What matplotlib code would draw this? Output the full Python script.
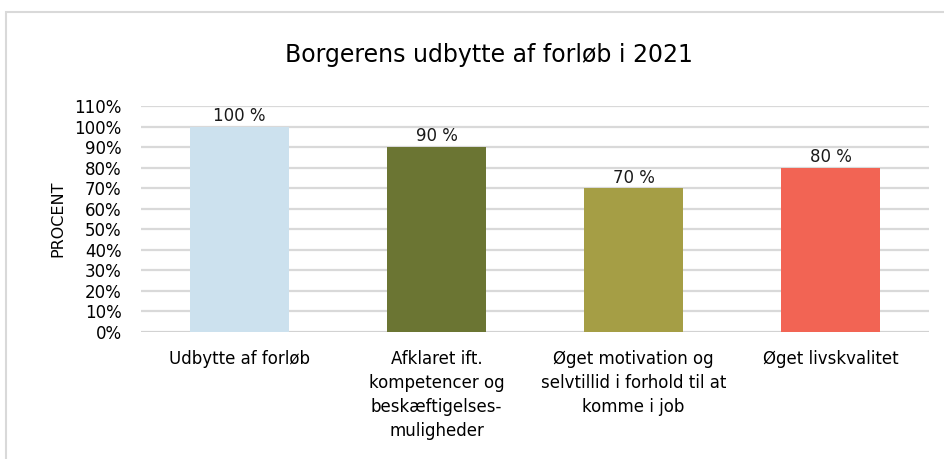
import matplotlib
matplotlib.use('Agg')
import matplotlib.pyplot as plt
from matplotlib.patches import Rectangle

plt.rcParams['font.family'] = ['DejaVu Sans']

# data
categories = ['Udbytte af forløb',
              'Afklaret ift.\nkompetencer og\nbeskæftigelses-\nmuligheder',
              'Øget motivation og\nselvtillid i forhold til at\nkomme i job',
              'Øget livskvalitet']
values = [100, 90, 70, 80]
colors = ['#CCE1EE', '#6B7533', '#A59E45', '#F26454']
yticks = list(range(0, 111, 10))

fig = plt.figure(figsize=(9.44, 4.59), dpi=100)
W, H = 944, 459
ax = fig.add_axes([141 / W, 1 - 332 / H, (929 - 141) / W, (332 - 106) / H])

# outer frame
fig.patches.append(Rectangle((6 / W, -0.01), 1.0, 1 - 12 / H + 0.01,
                             transform=fig.transFigure, fill=False,
                             edgecolor='#D9D9D9', linewidth=1.5))

x = range(len(values))
bars = ax.bar(x, values, width=0.5, color=colors, zorder=3)
for b, v in zip(bars, values):
    ax.text(b.get_x() + b.get_width() / 2, v + 0.8, f'{v} %',
            ha='center', va='bottom', fontsize=12, color='#1a1a1a')

ax.set_xlim(-0.5, len(values) - 0.5)
ax.set_ylim(0, 110)
ax.set_yticks(yticks)
ax.set_yticklabels([f'{t}%' for t in yticks], fontsize=12)
ax.yaxis.grid(True, color='#D9D9D9', linewidth=1.6, zorder=0)
ax.set_xticks(list(x))
ax.set_xticklabels(categories, fontsize=12, linespacing=1.42, va='top')
ax.tick_params(axis='both', length=0)
ax.tick_params(axis='x', pad=13)
ax.tick_params(axis='y', pad=14)
for s in ax.spines.values():
    s.set_visible(False)
ax.axhline(0, color='#D0D0D0', linewidth=1.8, zorder=2)

ax.set_ylabel('PROCENT', fontsize=11.5, labelpad=6)
fig.text(489 / W, 1 - 55 / H, 'Borgerens udbytte af forløb i 2021',
         ha='center', va='center', fontsize=17)

fig.savefig('out.png', dpi=100)
